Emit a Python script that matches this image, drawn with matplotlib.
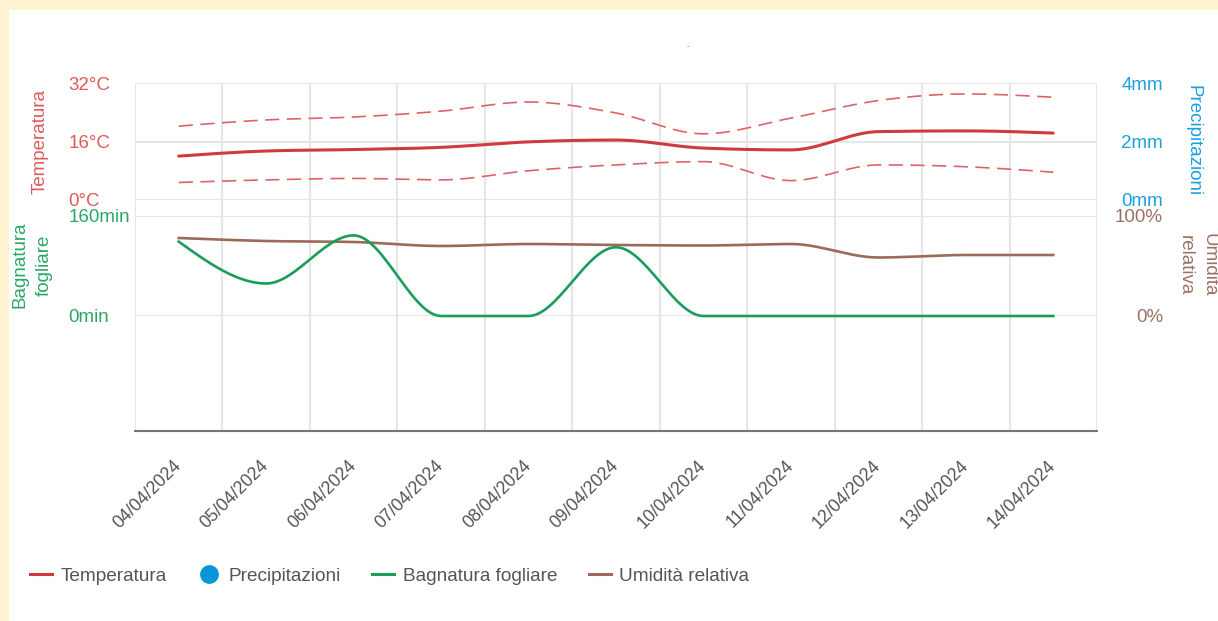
import numpy as np
import matplotlib
matplotlib.use("Agg")
import matplotlib.pyplot as plt
from matplotlib.lines import Line2D
from matplotlib.patches import Rectangle

plt.rcParams['font.family'] = ['Liberation Sans', 'DejaVu Sans']

# ---------------- data ----------------
dates = ["04/04/2024", "05/04/2024", "06/04/2024", "07/04/2024", "08/04/2024",
         "09/04/2024", "10/04/2024", "11/04/2024", "12/04/2024", "13/04/2024",
         "14/04/2024"]
temp_mean = [12.0, 13.4, 13.8, 14.4, 15.9, 16.4, 14.2, 13.7, 18.7, 18.9, 18.3]
temp_max = [20.2, 21.9, 22.7, 24.3, 26.8, 23.8, 18.1, 22.4, 27.2, 29.0, 28.1]
temp_min = [4.8, 5.5, 5.9, 5.5, 8.0, 9.6, 10.5, 5.3, 9.6, 9.1, 7.6]
precip = [None] * 11
leaf_wet = [119, 52, 129, 0, 0, 110, 0, 0, 0, 0, 0]
humidity = [78, 75, 74, 70, 72, 71, 70.5, 72, 58.5, 61, 61]

temp_ticks = [0, 16, 32]
temp_tick_labels = ["0°C", "16°C", "32°C"]
precip_ticks = [0, 2, 4]
precip_tick_labels = ["0mm", "2mm", "4mm"]
wet_ticks = [0, 160]
wet_tick_labels = ["0min", "160min"]
hum_ticks = [0, 100]
hum_tick_labels = ["0%", "100%"]

# ---------------- colours ----------------
C_TEMP = "#d03a3e"
C_TEMP_LIGHT = "#e06266"
C_TEMP_TXT = "#e05a5a"
C_PREC = "#1a9fe0"
C_PREC_DOT = "#0a95d8"
C_WET = "#1a9d5a"
C_WET_TXT = "#2aa765"
C_HUM = "#9b6a58"
C_HUM_TXT = "#9a7263"
C_GRID = "#e6e6e6"
C_TXT = "#555555"


def monotone_x(xs, ys, n=30):
    """d3 curveMonotoneX style rendering of a polyline."""
    xs = np.asarray(xs, float)
    ys = np.asarray(ys, float)
    N = len(xs)
    h = np.diff(xs)
    s = np.diff(ys) / h
    t = np.zeros(N)
    sg = lambda v: -1.0 if v < 0 else 1.0
    for i in range(1, N - 1):
        s0, s1 = s[i - 1], s[i]
        p = (s0 * h[i] + s1 * h[i - 1]) / (h[i - 1] + h[i])
        t[i] = (sg(s0) + sg(s1)) * min(abs(s0), abs(s1), 0.5 * abs(p))
    t[0] = (3 * s[0] - t[1]) / 2
    t[-1] = (3 * s[-1] - t[-2]) / 2
    X, Y = [], []
    for i in range(N - 1):
        u = np.linspace(0, 1, n, endpoint=(i == N - 2))
        h00 = 2 * u**3 - 3 * u**2 + 1
        h10 = u**3 - 2 * u**2 + u
        h01 = -2 * u**3 + 3 * u**2
        h11 = u**3 - u**2
        X.append(xs[i] + u * h[i])
        Y.append(h00 * ys[i] + h10 * h[i] * t[i] + h01 * ys[i + 1] + h11 * h[i] * t[i + 1])
    return np.concatenate(X), np.concatenate(Y)


W, H = 1218, 621
fig = plt.figure(figsize=(W / 100, H / 100), dpi=100, facecolor="#fff3d0")
fig.patches.append(Rectangle((9 / W, 0), 1, 1 - 10 / H, transform=fig.transFigure,
                             facecolor="white", edgecolor="none", zorder=-10))


def fx(x):
    return x / W


def fy(y):
    return 1 - y / H


L, R = 135, 1097
x = np.arange(len(dates))

# base axes: vertical grid, bottom axis, date labels
ax_b = fig.add_axes([fx(L), fy(431), fx(R) - fx(L), fy(83) - fy(431)])
ax_b.set_facecolor("none")
ax_b.set_xlim(-0.5, len(dates) - 0.5)
ax_b.set_ylim(0, 1)
ax_b.set_yticks([])
ax_b.set_xticks(x)
ax_b.set_xticks(np.arange(-0.5, len(dates)), minor=True)
ax_b.grid(True, which="minor", axis="x", color=C_GRID, lw=1.5)
ax_b.tick_params(axis="x", which="both", length=0)
ax_b.set_xticklabels(dates, rotation=45, ha="right", va="center",
                     rotation_mode="anchor", fontsize=12.7, color=C_TXT)
ax_b.tick_params(axis="x", which="major", pad=23)
for sp in ["top", "left", "right"]:
    ax_b.spines[sp].set_visible(False)
ax_b.spines["bottom"].set_color("#777777")
ax_b.spines["bottom"].set_linewidth(1.5)


def style_axes(a):
    a.set_facecolor("none")
    a.set_xlim(-0.5, len(dates) - 0.5)
    a.set_xticks([])
    for sp in a.spines.values():
        sp.set_visible(False)
    a.tick_params(axis="y", length=0)


# temperature panel
ax_t = fig.add_axes([fx(L), fy(200), fx(R) - fx(L), fy(83) - fy(200)])
style_axes(ax_t)
ax_t.set_ylim(0, 32)
ax_t.set_yticks(temp_ticks)
ax_t.set_yticklabels(temp_tick_labels, fontsize=13.5, color=C_TEMP_TXT, ha="left")
ax_t.tick_params(axis="y", pad=48)
ax_t.grid(True, axis="y", color=C_GRID, lw=1.5)
ax_t.set_axisbelow(True)

xs, ys = monotone_x(x, temp_max)
ax_t.plot(xs, ys, color=C_TEMP_LIGHT, lw=1.2, ls=(0, (8.5, 4.5)))
xs, ys = monotone_x(x, temp_min)
ax_t.plot(xs, ys, color=C_TEMP_LIGHT, lw=1.2, ls=(0, (8.5, 4.5)))
xs, ys = monotone_x(x, temp_mean)
ax_t.plot(xs, ys, color=C_TEMP, lw=2.2, solid_capstyle="round")

ax_p = ax_t.twinx()
style_axes(ax_p)
ax_p.set_ylim(0, 4)
ax_p.set_yticks(precip_ticks)
ax_p.set_yticklabels(precip_tick_labels, fontsize=13.5, color=C_PREC, ha="right")
ax_p.tick_params(axis="y", pad=47.5)
pv = np.array([np.nan if v is None else v for v in precip], float)
ax_p.scatter(x, pv, s=60, color=C_PREC_DOT)

# leaf wetness / humidity panel
ax_w = fig.add_axes([fx(L), fy(316), fx(R) - fx(L), fy(216) - fy(316)])
style_axes(ax_w)
ax_w.set_ylim(0, 160)
ax_w.set_yticks(wet_ticks)
ax_w.set_yticklabels(wet_tick_labels, fontsize=13.5, color=C_WET_TXT, ha="left")
ax_w.tick_params(axis="y", pad=48)
ax_w.grid(True, axis="y", color=C_GRID, lw=1.5)
ax_w.set_axisbelow(True)

ax_h = ax_w.twinx()
style_axes(ax_h)
ax_h.set_ylim(0, 100)
ax_h.set_yticks(hum_ticks)
ax_h.set_yticklabels(hum_tick_labels, fontsize=13.5, color=C_HUM_TXT, ha="right")
ax_h.tick_params(axis="y", pad=47.5)

xs, ys = monotone_x(x, humidity)
ax_h.plot(xs, ys, color=C_HUM, lw=1.9)
xs, ys = monotone_x(x, leaf_wet)
ax_h.plot(xs, np.array(ys) * 100 / 160, color=C_WET, lw=1.9, clip_on=False)

# axis titles
fig.text(fx(40), fy(141), "Temperatura", rotation=90, ha="center", va="center",
         fontsize=13.5, color=C_TEMP_TXT)
fig.text(fx(32), fy(265), "Bagnatura\nfogliare", rotation=90, ha="center", va="center",
         fontsize=13.5, color=C_WET_TXT, multialignment="center", linespacing=1.6)
fig.text(fx(1193), fy(141), "Precipitazioni", rotation=270, ha="center", va="center",
         fontsize=13.5, color=C_PREC)
fig.text(fx(1197), fy(265), "Umidità\nrelativa", rotation=270, ha="center", va="center",
         fontsize=13.5, color=C_HUM_TXT, multialignment="center", linespacing=1.5)

# tiny title
fig.text(fx(688), fy(47), "-", ha="center", va="center", fontsize=6, color="#888888")

# legend
handles = [
    Line2D([], [], color=C_TEMP, lw=2.2),
    Line2D([], [], color=C_PREC_DOT, marker="o", ls="none", markersize=12.5),
    Line2D([], [], color=C_WET, lw=2.2),
    Line2D([], [], color=C_HUM, lw=2.2),
]
labels = ["Temperatura", "Precipitazioni", "Bagnatura fogliare", "Umidità relativa"]
fig.legend(handles, labels, loc="center left", bbox_to_anchor=(fx(30), fy(576)),
           ncol=4, frameon=False, fontsize=13.7, labelcolor=C_TXT,
           handlelength=1.17, handletextpad=0.43, columnspacing=1.65,
           borderpad=0, borderaxespad=0)

fig.savefig("out.png", dpi=100, facecolor=fig.get_facecolor())
